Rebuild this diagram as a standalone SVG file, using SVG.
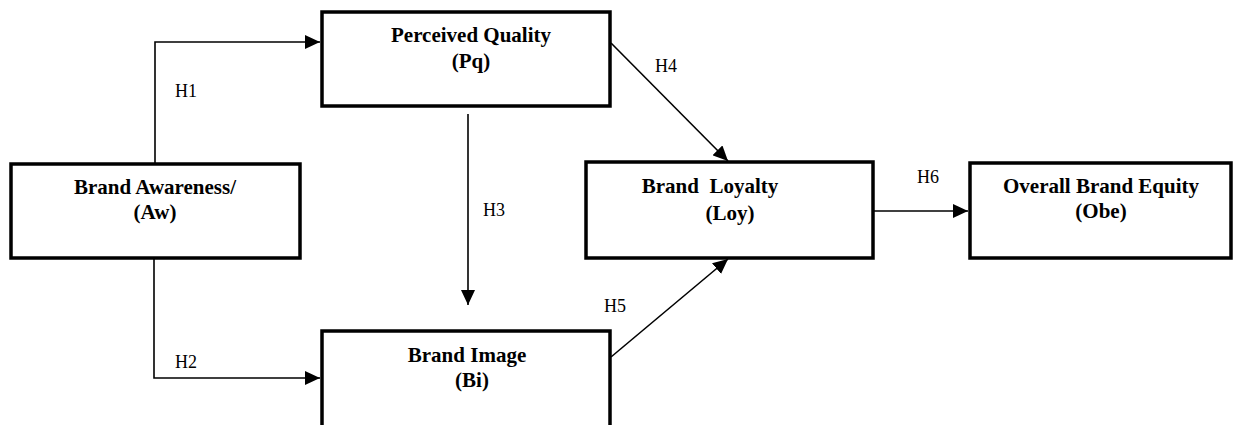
<svg xmlns="http://www.w3.org/2000/svg" width="1235" height="425" viewBox="0 0 1235 425">
<defs>
<style>
.box{fill:#fff;stroke:#000;stroke-width:3.5}
.t{font-family:"Liberation Serif","Times New Roman",serif;font-weight:bold;font-size:21px;text-anchor:middle;fill:#000}
.h{font-family:"Liberation Serif","Times New Roman",serif;font-size:18px;fill:#000}
.c{fill:none;stroke:#000;stroke-width:1.6}
</style>
<marker id="arr" viewBox="0 0 15 14" refX="15" refY="7" markerWidth="15" markerHeight="14" markerUnits="userSpaceOnUse" orient="auto">
<path d="M0,0 L15,7 L0,14 Z" fill="#000"/>
</marker>
</defs>
<rect width="1235" height="425" fill="#fff"/>
<g id="connectors">
<path class="c" d="M155,163 V42 H320" marker-end="url(#arr)"/>
<path class="c" d="M154,258 V378 H320" marker-end="url(#arr)"/>
<path class="c" d="M468,114 V305" marker-end="url(#arr)"/>
<path class="c" d="M611,43 L728,161" marker-end="url(#arr)"/>
<path class="c" d="M611,357 L728,259" marker-end="url(#arr)"/>
<path class="c" d="M874,211 H968" marker-end="url(#arr)"/>
<text class="h" x="175" y="97">H1</text>
<text class="h" x="175" y="368">H2</text>
<text class="h" x="483" y="216">H3</text>
<text class="h" x="655" y="72">H4</text>
<text class="h" x="604" y="312">H5</text>
<text class="h" x="917" y="183">H6</text>
</g>
<g id="aw">
<rect class="box" x="11" y="164" width="289" height="94"/>
<text class="t" x="155" y="194">Brand Awareness/</text>
<text class="t" x="155" y="219">(Aw)</text>
</g>
<g id="pq">
<rect class="box" x="322" y="12" width="288" height="94"/>
<text class="t" x="471" y="42">Perceived Quality</text>
<text class="t" x="471" y="68">(Pq)</text>
</g>
<g id="bi">
<rect class="box" x="322" y="331" width="288" height="100"/>
<text class="t" x="467" y="362">Brand Image</text>
<text class="t" x="472" y="387">(Bi)</text>
</g>
<g id="loy">
<rect class="box" x="586" y="162" width="287" height="96"/>
<text class="t" x="710" y="193" xml:space="preserve">Brand  Loyalty</text>
<text class="t" x="730" y="220">(Loy)</text>
</g>
<g id="obe">
<rect class="box" x="970" y="163" width="261" height="95"/>
<text class="t" x="1101" y="193">Overall Brand Equity</text>
<text class="t" x="1101" y="218">(Obe)</text>
</g>
</svg>
